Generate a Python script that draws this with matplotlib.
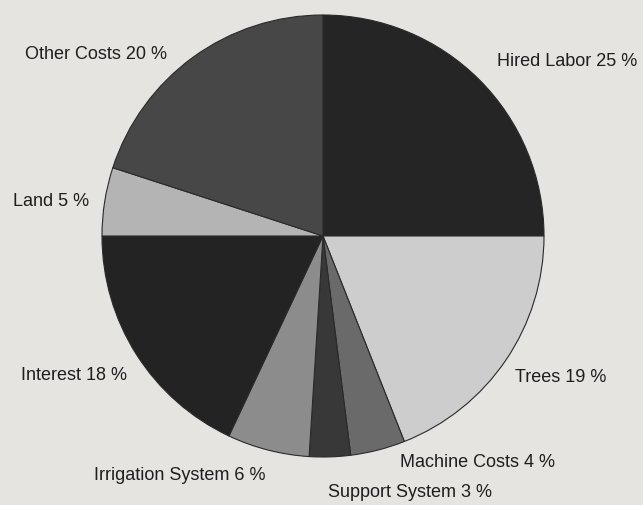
import matplotlib.pyplot as plt

# Cost shares, clockwise from the top
categories = ["Hired Labor", "Trees", "Machine Costs", "Support System",
              "Irrigation System", "Interest", "Land", "Other Costs"]
shares = [25, 19, 4, 3, 6, 18, 5, 20]

colors = ["#252525", "#cdcdcd", "#6a6a6a", "#383838",
          "#8c8c8c", "#232323", "#b4b4b4", "#474747"]

# label anchors (left x, centre y) in figure pixels, y measured from top
label_pos = [(497, 61), (515, 377), (400, 463), (328, 493),
             (94, 476), (21, 376), (13, 202), (25, 54)]

W, H = 643, 506
fig = plt.figure(figsize=(W / 100, H / 100), dpi=100)
fig.patch.set_facecolor("#e6e4e1")
ax = fig.add_axes([0, 0, 1, 1])

ax.pie(shares, colors=colors, startangle=90, counterclock=False,
       center=(323, H - 237), radius=221, frame=True,
       wedgeprops=dict(edgecolor="#2a2a2a", linewidth=0.8))
ax.set_xlim(0, W)
ax.set_ylim(0, H)
ax.axis("off")

for name, val, (x, y) in zip(categories, shares, label_pos):
    ax.text(x, H - y, f"{name} {val} %", ha="left", va="center",
            fontsize=13, color="#1e1e1e", family="Liberation Sans")

fig.savefig("out.png", dpi=100, facecolor=fig.get_facecolor())
